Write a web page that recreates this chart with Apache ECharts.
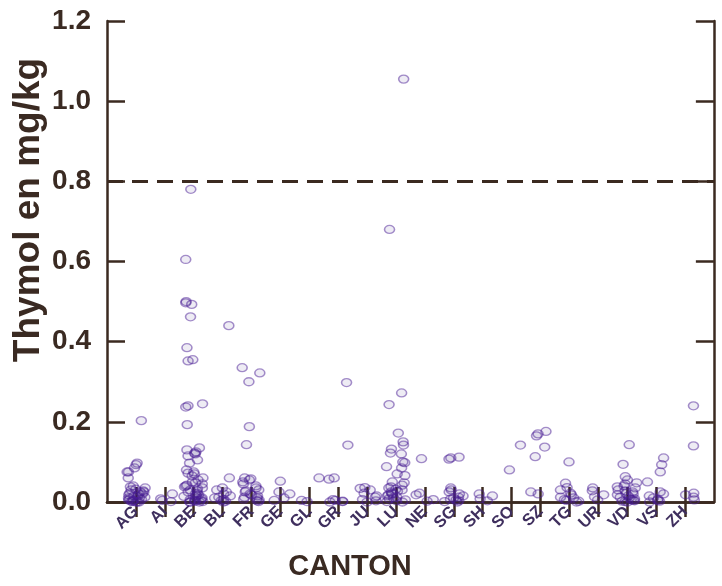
<!DOCTYPE html>
<html><head><meta charset="utf-8">
<script src="https://cdn.jsdelivr.net/npm/echarts@6/dist/echarts.min.js"></script>
<style>html,body{margin:0;padding:0;background:#fff}#c{width:722px;height:586px}</style>
</head><body><div id="c"></div>
<script>
// ---- data ----
const cantons = ['AG','AI','BE','BL','FR','GE','GL','GR','JU','LU','NE','SG','SH','SO','SZ','TG','UR','VD','VS','ZH'];
const yTickValues = [0, 0.2, 0.4, 0.6, 0.8, 1.0, 1.2];
const threshold = 0.8;

const AG = [0.203,0.097,0.093,0.085,0.075,0.075,0.06,0.04,0.038,0.035,0.032,0.03,0.028,0.025,0.025,0.022,0.02,0.02,0.018,0.015,0.015,0.012,0.01,0.01,0.008,0.006,0.005,0.004,0.003,0.002,0.001,0,0,0];
const AI = [0.02,0.008,0.004,0.001];
const BE = [0.78,0.605,0.50,0.497,0.493,0.462,0.385,0.355,0.352,0.245,0.24,0.237,0.193,0.135,0.13,0.125,0.122,0.12,0.115,0.105,0.097,0.08,0.075,0.072,0.07,0.065,0.06,0.055,0.05,0.048,0.045,0.042,0.04,0.038,0.035,0.033,0.03,0.028,0.025,0.022,0.02,0.018,0.016,0.014,0.012,0.01,0.008,0.006,0.005,0.004,0.003,0.002,0.001,0,0,0];
const BL = [0.44,0.06,0.035,0.03,0.025,0.02,0.015,0.012,0.01,0.006,0.004,0.002,0];
const FR = [0.335,0.322,0.30,0.188,0.143,0.06,0.058,0.055,0.05,0.045,0.04,0.035,0.03,0.028,0.025,0.02,0.018,0.015,0.012,0.01,0.007,0.005,0.003,0.001];
const GE = [0.052,0.025,0.02,0.01,0.004];
const GL = [0.06,0.004,0.001];
const GR = [0.298,0.142,0.06,0.057,0.006,0.004,0.002,0.001,0];
const JU = [0.036,0.034,0.03,0.022,0.015,0.012,0.006,0.003,0];
const LU = [1.055,0.68,0.272,0.243,0.172,0.15,0.142,0.132,0.122,0.12,0.1,0.098,0.088,0.085,0.07,0.066,0.05,0.048,0.042,0.038,0.035,0.032,0.03,0.027,0.025,0.022,0.02,0.018,0.015,0.012,0.01,0.008,0.005,0.003,0.001,0];
const NE = [0.108,0.022,0.018,0.006,0.002];
const SG = [0.112,0.11,0.107,0.035,0.03,0.025,0.02,0.015,0.012,0.01,0.007,0.005,0.003,0.001,0];
const SH = [0.02,0.015,0.008,0.003];
const SO = [0.142,0.08];
const SZ = [0.176,0.17,0.165,0.137,0.113,0.025,0.02];
const TG = [0.1,0.047,0.036,0.03,0.022,0.018,0.012,0.01,0.006,0.004,0.002,0];
const UR = [0.035,0.028,0.018,0.013,0.005];
const VD = [0.143,0.094,0.063,0.055,0.048,0.045,0.04,0.038,0.035,0.03,0.028,0.025,0.022,0.02,0.018,0.015,0.012,0.01,0.008,0.006,0.004,0.003,0.002,0.001,0];
const VS = [0.11,0.093,0.075,0.05,0.025,0.02,0.015,0.01,0.007,0.004,0.002,0];
const ZH = [0.24,0.14,0.022,0.018,0.012,0.005];

const valuesByCanton = {AG,AI,BE,BL,FR,GE,GL,GR,JU,LU,NE,SG,SH,SO,SZ,TG,UR,VD,VS,ZH};

// ---- chart ----
const axisColor = '#3b2a20';
const textColor = '#3a2a22';
const padStart = ' ', padEnd = '  ';
const xCats = [padStart].concat(cantons, [padEnd]);

const points = [];
cantons.forEach(c => valuesByCanton[c].forEach(v => points.push([c, v])));

const realCat = (i, v) => v.trim() !== '';

const axisLine = {show: true, lineStyle: {color: axisColor, width: 2.5}};

const chart = echarts.init(document.getElementById('c'), null, {renderer: 'canvas'});
chart.setOption({
  animation: false,
  backgroundColor: '#ffffff',
  grid: {left: 107, right: 2, top: 21, bottom: 84, containLabel: false},
  xAxis: [{
    type: 'category', data: xCats, boundaryGap: false, position: 'bottom',
    jitter: 22,
    axisLine: axisLine,
    axisTick: {show: true, inside: true, length: 15, interval: realCat, lineStyle: {color: axisColor, width: 2.5}},
    axisLabel: {interval: 0, rotate: 45, margin: 7, fontSize: 16.5, fontWeight: 'bold', fontFamily: 'Liberation Sans', color: '#3f2f5e'},
    splitLine: {show: false}
  }, {
    type: 'category', data: xCats, boundaryGap: false, position: 'top',
    axisLine: axisLine,
    axisTick: {show: true, inside: true, length: 15, interval: realCat, lineStyle: {color: axisColor, width: 2.5}},
    axisLabel: {show: false},
    splitLine: {show: false}
  }],
  yAxis: [{
    type: 'value', position: 'left',
    min: yTickValues[0], max: yTickValues[yTickValues.length - 1], interval: 0.2,
    axisLine: axisLine,
    axisTick: {show: true, inside: true, length: 18, lineStyle: {color: axisColor, width: 2.5}},
    axisLabel: {formatter: v => v.toFixed(1), margin: 16, fontSize: 28, fontWeight: 'bold', fontFamily: 'Liberation Sans', color: textColor, padding: [10, 0, 0, 0]},
    splitLine: {show: false}
  }, {
    type: 'value', position: 'right',
    min: yTickValues[0], max: yTickValues[yTickValues.length - 1], interval: 0.2,
    axisLine: axisLine,
    axisTick: {show: true, inside: true, length: 18, lineStyle: {color: axisColor, width: 2.5}},
    axisLabel: {show: false},
    splitLine: {show: false}
  }],
  series: [{
    type: 'scatter',
    xAxisIndex: 0, yAxisIndex: 0,
    data: points,
    symbol: 'circle',
    symbolSize: [10, 8],
    clip: false,
    itemStyle: {color: 'rgba(50,25,120,0.1)', borderColor: 'rgba(75,30,150,0.62)', borderWidth: 1.4},
    markLine: {
      silent: true, symbol: 'none', animation: false,
      label: {show: false},
      lineStyle: {color: axisColor, width: 3, type: [16, 9]},
      data: [{yAxis: threshold}]
    }
  }],
  graphic: [{
    type: 'text', x: 29, y: 210, rotation: Math.PI / 2,
    style: {text: 'Thymol en mg/kg', fontSize: 37, fontWeight: 'bold', fontFamily: 'Liberation Sans', fill: textColor, align: 'center', verticalAlign: 'middle'}
  }, {
    type: 'text', x: 350, y: 567,
    style: {text: 'CANTON', fontSize: 29, fontWeight: 'bold', fontFamily: 'Liberation Sans', fill: textColor, align: 'center', verticalAlign: 'middle'}
  }]
});
</script>
</body></html>
